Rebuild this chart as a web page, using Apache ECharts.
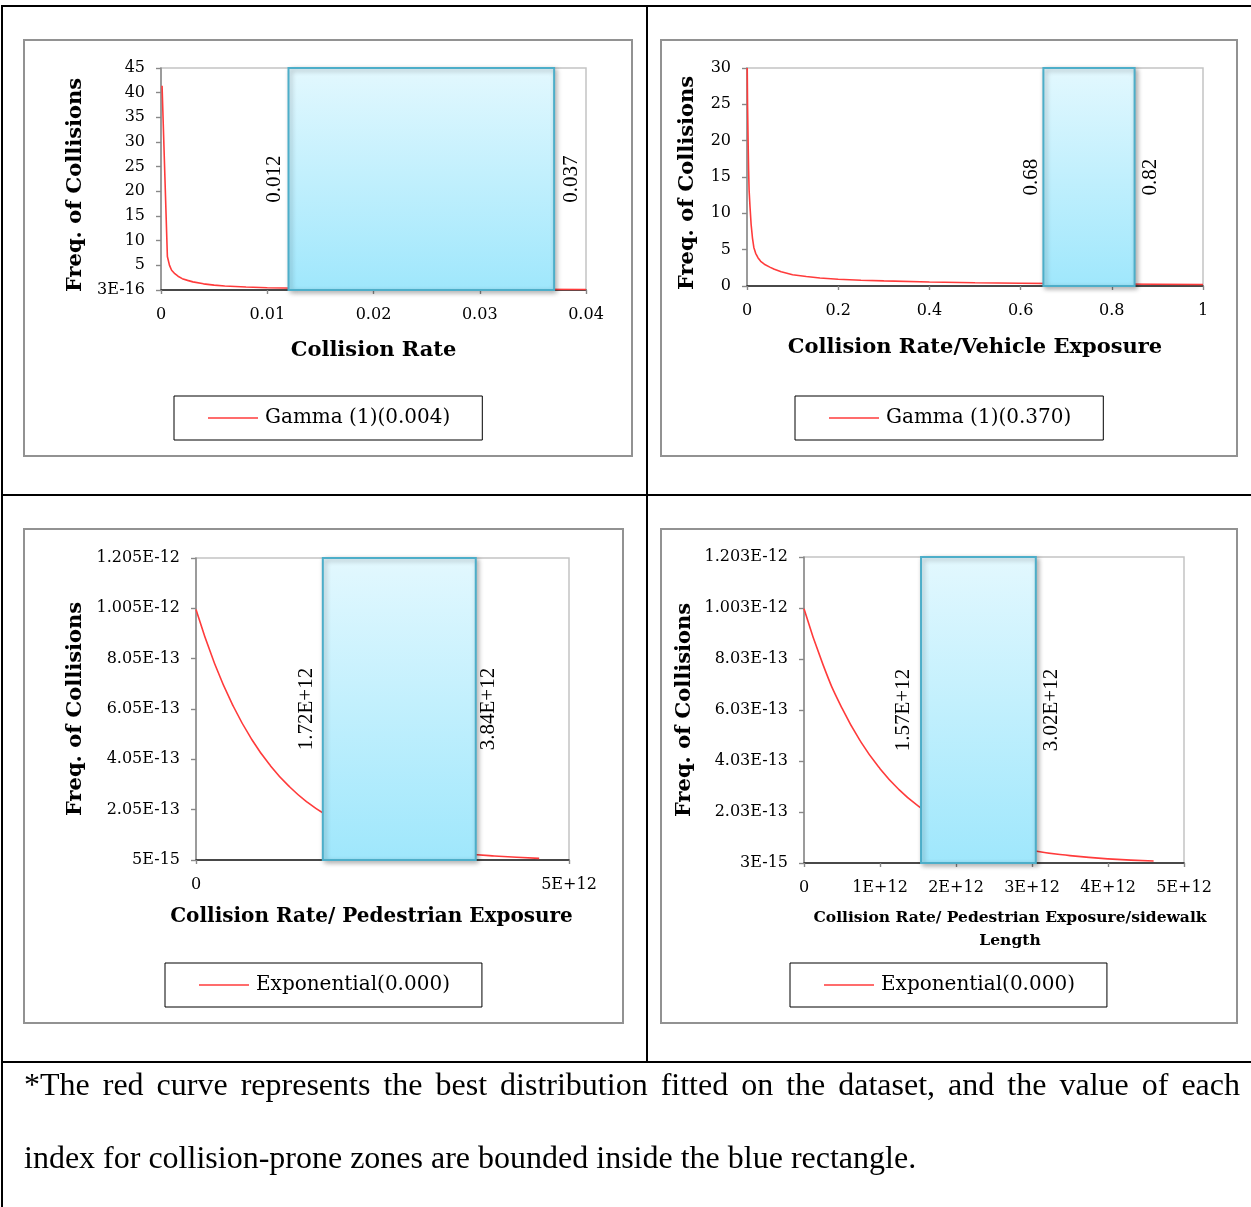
<!DOCTYPE html>
<html>
<head>
<meta charset="utf-8">
<script src="https://cdn.jsdelivr.net/npm/echarts@6.0.0/dist/echarts.min.js"></script>
<style>
body{margin:0;background:#fff;}
#page{position:relative;width:1251px;height:1207px;overflow:hidden;background:#fff;}
.ln{position:absolute;background:#000;}
.box{position:absolute;border:2px solid #929292;box-sizing:border-box;}
#d{position:absolute;left:0;top:0;width:1251px;height:1207px;}
.note{position:absolute;left:24px;width:1216px;font-family:"Liberation Serif";font-size:32px;line-height:36px;color:#000;white-space:nowrap;}
#n1{top:1066px;text-align:justify;text-align-last:justify;white-space:normal;}
#n2{top:1139px;}
</style>
</head>
<body>
<div id="page">
  <div class="ln" style="left:1px;top:5px;width:1250px;height:2px"></div>
  <div class="ln" style="left:1px;top:5px;width:2px;height:1202px"></div>
  <div class="ln" style="left:646px;top:5px;width:2px;height:1058px"></div>
  <div class="ln" style="left:1px;top:494px;width:1250px;height:2px"></div>
  <div class="ln" style="left:1px;top:1061px;width:1250px;height:2px"></div>

  <div class="box" style="left:23px;top:39px;width:610px;height:418px"></div>
  <div class="box" style="left:660px;top:39px;width:578px;height:418px"></div>
  <div class="box" style="left:23px;top:528px;width:601px;height:496px"></div>
  <div class="box" style="left:660px;top:528px;width:578px;height:496px"></div>

  <div id="d"></div>

  <div class="note" id="n1">*The red curve represents the best distribution fitted on the dataset, and the value of each</div>
  <div class="note" id="n2">index for collision-prone zones are bounded inside the blue rectangle.</div>
</div>
<script>
// chart 1 : collision rate
var xLabels1=['0','0.01','0.02','0.03','0.04'];
var yLabels1=['3E-16','5','10','15','20','25','30','35','40','45'];
var curve1=[[0.0001,41.4],[0.0006,6.8],[0.0008,5.0],[0.001,4.0],[0.0013,3.3],[0.0016,2.8],[0.002,2.3],[0.0025,1.95],[0.003,1.65],[0.004,1.25],[0.005,0.98],[0.006,0.8],[0.008,0.6],[0.01,0.47],[0.013,0.36],[0.016,0.29],[0.02,0.23],[0.025,0.18],[0.03,0.14],[0.035,0.12],[0.04,0.1]];
var zone1=[0.012,0.037];
var zoneText1=['0.012','0.037'];
var legend1='Gamma (1)(0.004)';

// chart 2 : collision rate / vehicle exposure
var xLabels2=['0','0.2','0.4','0.6','0.8','1'];
var yLabels2=['0','5','10','15','20','25','30'];
var curve2=[[0.0005,30],[0.0012,25],[0.0024,20],[0.0035,16],[0.0046,13.2],[0.0066,10.9],[0.009,8.5],[0.012,6.6],[0.015,5.3],[0.019,4.5],[0.024,3.9],[0.03,3.4],[0.038,3.0],[0.05,2.6],[0.06,2.3],[0.075,1.95],[0.1,1.55],[0.13,1.3],[0.16,1.1],[0.2,0.92],[0.25,0.8],[0.3,0.7],[0.4,0.55],[0.5,0.45],[0.6,0.38],[0.7,0.33],[0.8,0.28],[0.9,0.24],[1.0,0.2]];
var zone2=[0.65,0.85];
var zoneText2=['0.68','0.82'];
var legend2='Gamma (1)(0.370)';

// chart 3 : pedestrian exposure (x in 1E+12, y in 1E-15)
var xLabels3=['0','5E+12'];
var yLabels3=['5E-15','2.05E-13','4.05E-13','6.05E-13','8.05E-13','1.005E-12','1.205E-12'];
var yBase3=5;
var curve3=[[0,1000],[0.25,785],[0.5,616],[0.75,483],[1,379],[1.25,297],[1.5,233],[1.75,183],[2,144],[2.5,88],[3,54],[3.5,34],[4,21],[4.6,11.5]];
var zone3=[1.7,3.75];
var zoneText3=['1.72E+12','3.84E+12'];
var legend3='Exponential(0.000)';

// chart 4 : pedestrian exposure / sidewalk length
var xLabels4=['0','1E+12','2E+12','3E+12','4E+12','5E+12'];
var yLabels4=['3E-15','2.03E-13','4.03E-13','6.03E-13','8.03E-13','1.003E-12','1.203E-12'];
var yBase4=3;
var curve4=[[0,1000],[0.25,781],[0.5,610],[0.75,477],[1,373],[1.25,291],[1.5,227],[1.75,178],[2,139],[2.5,85],[3,52],[3.5,32],[4,19],[4.6,11]];
var zone4=[1.54,3.05];
var zoneText4=['1.57E+12','3.02E+12'];
var legend4='Exponential(0.000)';

var serif='DejaVu Serif';

var panels=[
  {grid:{left:161,top:68,width:425,height:222},xStep:0.01,xLabels:xLabels1,yStep:5,yLabels:yLabels1,yBase:0,
   curve:curve1,smooth:false,zone:zone1,zoneText:zoneText1,name:legend1,legendPos:[174,396],textOff:[14,17],
   xName:'Collision Rate',xGap:49,xPad:[0,0,0,0],xSize:21,yGap:75,yPad:[0,12,0,0]},
  {grid:{left:747,top:68,width:456,height:218},xStep:0.2,xLabels:xLabels2,yStep:5,yLabels:yLabels2,yBase:0,
   curve:curve2,smooth:false,zone:zone2,zoneText:zoneText2,name:legend2,legendPos:[795,396],textOff:[12,16],
   xName:'Collision Rate/Vehicle Exposure',xGap:50,xPad:[0,0,0,0],xSize:21,yGap:49,yPad:[0,12,0,0]},
  {grid:{left:196,top:558,width:373,height:302},xStep:5,xLabels:xLabels3,yStep:200,yLabels:yLabels3,yBase:yBase3,
   curve:curve3,smooth:0.5,zone:zone3,zoneText:zoneText3,name:legend3,legendPos:[165,963],textOff:[16,13],
   xName:'Collision Rate/ Pedestrian Exposure',xGap:45,xPad:[0,22,0,0],xSize:20,yGap:110,yPad:[0,0,0,0]},
  {grid:{left:804,top:557,width:380,height:306},xStep:1,xLabels:xLabels4,yStep:200,yLabels:yLabels4,yBase:yBase4,
   curve:curve4,smooth:0.5,zone:zone4,zoneText:zoneText4,name:legend4,legendPos:[790,963],textOff:[18,16],
   xName:'Collision Rate/ Pedestrian Exposure/sidewalk\nLength',xGap:43,xPad:[0,0,0,32],xSize:15.5,yGap:109,yPad:[0,0,0,0]}
];

var myChart=echarts.init(document.getElementById('d'));
var option={
  animation:false,
  grid:[],xAxis:[],yAxis:[],legend:[],series:[]
};

panels.forEach(function(p,i){
  var g=p.grid;
  option.grid.push({left:g.left,top:g.top,width:g.width,height:g.height,containLabel:false,outerBoundsMode:'none',
    show:true,borderColor:'#c4c4c4',borderWidth:1.5,backgroundColor:'transparent'});
  var xMax=p.xStep*(p.xLabels.length-1);
  var yMax=p.yStep*(p.yLabels.length-1);
  // main axes (ticks outside) + twin axes (ticks inside) => crossing ticks
  option.xAxis.push({gridIndex:i,type:'value',min:0,max:xMax,interval:p.xStep,
    name:p.xName,nameLocation:'middle',nameGap:p.xGap,
    nameTextStyle:{fontFamily:serif,fontWeight:'bold',fontSize:p.xSize,color:'#000',padding:p.xPad,lineHeight:23},
    axisLine:{show:true,onZero:false,lineStyle:{color:'#1c1c1c',width:1.5}},
    axisTick:{show:true,length:4,lineStyle:{color:'#888',width:1.2}},
    axisLabel:{margin:17,fontFamily:serif,fontSize:16,color:'#000',showMinLabel:true,showMaxLabel:true,
      formatter:function(v){return p.xLabels[Math.round(v/p.xStep)];}},
    splitLine:{show:false}});
  option.xAxis.push({gridIndex:i,type:'value',min:0,max:xMax,interval:p.xStep,
    axisLine:{show:false},axisTick:{show:true,inside:true,length:4,lineStyle:{color:'#888',width:1.2}},
    axisLabel:{show:false},splitLine:{show:false}});
  option.yAxis.push({gridIndex:i,type:'value',min:0,max:yMax,interval:p.yStep,
    name:'Freq. of Collisions',nameLocation:'middle',nameGap:p.yGap,
    nameTextStyle:{fontFamily:serif,fontWeight:'bold',fontSize:21,color:'#000',padding:p.yPad},
    axisLine:{show:true,onZero:false,lineStyle:{color:'#888',width:1.5}},
    axisTick:{show:true,length:5,lineStyle:{color:'#888',width:1.2}},
    axisLabel:{margin:16,fontFamily:serif,fontSize:16,color:'#000',showMinLabel:true,showMaxLabel:true,
      formatter:function(v){return p.yLabels[Math.round(v/p.yStep)];}},
    splitLine:{show:false}});
  option.yAxis.push({gridIndex:i,type:'value',min:0,max:yMax,interval:p.yStep,
    axisLine:{show:false},axisTick:{show:true,inside:true,length:5,lineStyle:{color:'#888',width:1.2}},
    axisLabel:{show:false},splitLine:{show:false}});

  var pts=p.curve.map(function(d){return [d[0],d[1]-p.yBase];});
  option.series.push({
    name:p.name,type:'line',xAxisIndex:i*2,yAxisIndex:i*2,data:pts,
    symbol:'none',showSymbol:false,smooth:p.smooth,clip:true,z:2,
    lineStyle:{color:'#ff3b3b',width:1.6},itemStyle:{color:'#ff3b3b'}
  });
  option.series.push({
    type:'custom',xAxisIndex:i*2,yAxisIndex:i*2,z:5,silent:true,
    data:[[p.zone[0],p.zone[1],0,yMax]],
    renderItem:function(params,api){
      var a=api.coord([api.value(0),api.value(3)]);
      var b=api.coord([api.value(1),api.value(2)]);
      var mid=(a[1]+b[1])/2;
      return {type:'group',children:[
        {type:'rect',shape:{x:a[0],y:a[1],width:b[0]-a[0],height:b[1]-a[1]},
         style:{fill:new echarts.graphic.LinearGradient(0,0,0,1,[{offset:0,color:'#e3f8fe'},{offset:1,color:'#9fe7fc'}]),
           stroke:'#4daec9',lineWidth:2,shadowBlur:5,shadowOffsetX:2,shadowOffsetY:2,shadowColor:'rgba(0,0,0,0.3)'}},
        {type:'text',x:a[0]-p.textOff[0],y:mid,rotation:Math.PI/2,
         style:{text:p.zoneText[0],font:'21px "Liberation Serif"',fill:'#000',align:'center',verticalAlign:'middle'}},
        {type:'text',x:b[0]+p.textOff[1],y:mid,rotation:Math.PI/2,
         style:{text:p.zoneText[1],font:'21px "Liberation Serif"',fill:'#000',align:'center',verticalAlign:'middle'}}
      ]};
    }
  });
  option.legend.push({
    data:[{name:p.name,icon:'rect'}],left:p.legendPos[0],top:p.legendPos[1],orient:'horizontal',
    padding:[12,32,12,34],borderColor:'#000',borderWidth:1,borderRadius:0,
    itemWidth:50,itemHeight:1.6,itemGap:0,
    itemStyle:{color:'#ff3b3b',borderWidth:0},
    textStyle:{fontFamily:serif,fontSize:20,color:'#000',padding:[0,0,0,2]},
    selectedMode:false
  });
});

option && myChart.setOption(option);
</script>
</body>
</html>
